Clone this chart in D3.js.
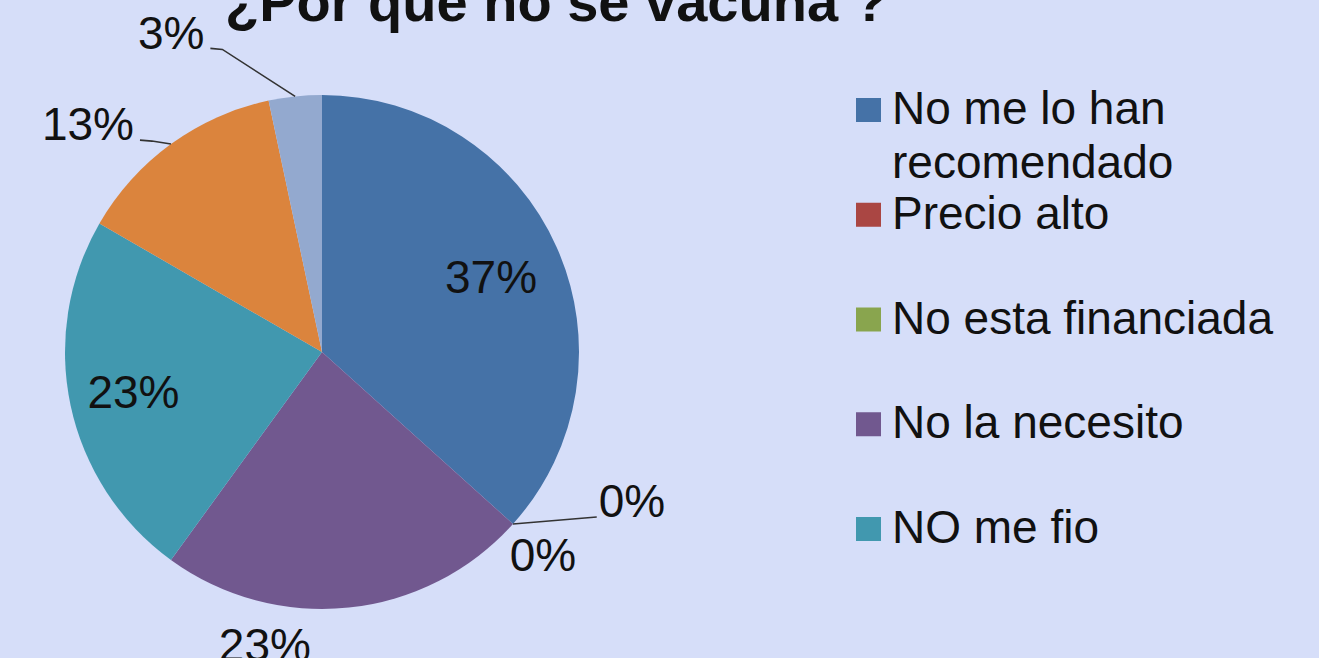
<!DOCTYPE html>
<html>
<head>
<meta charset="utf-8">
<script src="https://cdn.jsdelivr.net/npm/d3@7"></script>
<style>
  html, body { margin: 0; padding: 0; background: #d6def9; overflow: hidden; }
  svg { display: block; font-family: "Liberation Sans", Arial, sans-serif; }
</style>
</head>
<body>
<svg id="chart" width="1319" height="658"></svg>
<script>
// ---- data ----
const title = "¿Por que no se vacuna ?";
const categories = ["No me lo han recomendado", "Precio alto", "No esta financiada", "No la necesito", "NO me fio", "Otros", "Otros 2"];
const legendLines = [["No me lo han", "recomendado"], ["Precio alto"], ["No esta financiada"], ["No la necesito"], ["NO me fio"]];
const counts = [11, 0, 0, 7, 7, 4, 1];
const colors = ["#4572a7", "#aa4643", "#89a54e", "#71588f", "#4198af", "#db843d", "#93a9cf"];

// ---- label placement (style only) ----
const labelLayout = [
  { inside: 0.72 },
  { dx: 119, dy: -23, leader: true },
  { dx: 30, dy: 31 },
  { dx: -84, dy: 37 },
  { inside: 0.75 },
  { dx: -83, dy: -20, leader: true },
  { dx: -124, dy: -64, leader: true }
];

const svg = d3.select("#chart");
const cx = 322, cy = 352, R = 257;
const total = d3.sum(counts);
const fmt = v => Math.round(v / total * 100) + "%";

// title
svg.append("text")
  .attr("x", 225).attr("y", 21)
  .attr("font-size", 56).attr("font-weight", "bold").attr("fill", "#111")
  .text(title);

const pie = d3.pie().value(d => d).sort(null);
const arcs = pie(counts);
const arc = d3.arc().innerRadius(0).outerRadius(R);

const g = svg.append("g").attr("transform", `translate(${cx},${cy})`);
g.selectAll("path.slice").data(arcs).join("path")
  .attr("class", "slice")
  .attr("d", arc)
  .attr("fill", (d, i) => colors[i]);

// labels
const labelG = g.append("g");
arcs.forEach((d, i) => {
  const L = labelLayout[i];
  const a = (d.startAngle + d.endAngle) / 2;
  const mx = R * Math.sin(a), my = -R * Math.cos(a);
  let lx, ly;
  if (L.inside) {
    lx = L.inside * R * Math.sin(a);
    ly = -L.inside * R * Math.cos(a);
  } else {
    lx = mx + L.dx; ly = my + L.dy;
  }
  const t = labelG.append("text")
    .attr("x", lx).attr("y", ly).attr("dy", "0.35em")
    .attr("text-anchor", "middle")
    .attr("font-size", 46).attr("fill", "#111")
    .text(fmt(d.value));
  if (L.leader) {
    const bb = t.node().getBBox();
    const base = ly + 16;
    let sx, ex;
    if (mx > lx) { sx = bb.x + bb.width + 6; ex = sx + 12; }
    else { sx = bb.x - 2; ex = sx - 12; }
    labelG.append("path")
      .attr("d", `M${sx},${base}L${ex},${base + 1}L${mx},${my}`)
      .attr("fill", "none").attr("stroke", "#333").attr("stroke-width", 1.6);
  }
});

// legend
const legendCats = legendLines.map((l, i) => categories[i]);
const ly = d3.scalePoint().domain(legendCats).range([110, 529]);
const leg = svg.append("g");
legendCats.forEach((c, i) => {
  const y = ly(c);
  leg.append("rect").attr("x", 856).attr("y", y - 12).attr("width", 25).attr("height", 24)
    .attr("fill", colors[i]);
  const t = leg.append("text").attr("x", 892).attr("y", y + 14)
    .attr("font-size", 46).attr("fill", "#111");
  legendLines[i].forEach((line, j) => {
    t.append("tspan").attr("x", 892).attr("dy", j === 0 ? 0 : 54).text(line);
  });
});
</script>
</body>
</html>
